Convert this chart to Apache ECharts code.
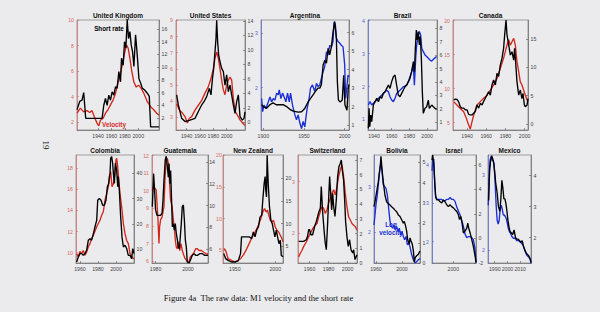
<!DOCTYPE html>
<html><head><meta charset="utf-8">
<script src="https://cdn.jsdelivr.net/npm/echarts@6/dist/echarts.min.js"></script>
<style>html,body{margin:0;padding:0;background:#ebebed;}#c{width:600px;height:312px;}</style>
</head><body><div id="c"></div>
<script>
// ---------------- DATA ----------------
const ukRate = [[1908.5,3.3],[1912.5,4.6],[1916,4.8],[1918.5,6.0],[1920,4.0],[1921.5,1.95],[1946,1.95],[1948.5,4.0],[1951,5.1],[1953.5,4.0],[1956,5.6],[1958.5,4.8],[1961,6.1],[1963.5,5.6],[1966,6.9],[1968.5,6.7],[1971,9.3],[1973.5,7.7],[1975,11.4],[1977.5,10.3],[1979.5,14.0],[1981.5,13.0],[1983.5,17.4],[1985.5,14.5],[1987.5,15.6],[1989.5,13.5],[1991.5,12.4],[1993.5,10.1],[1996,15.1],[1998.5,11.9],[2001,8.2],[2003.5,7.5],[2006,6.7],[2009.5,6.4],[2013.5,5.9],[2016.5,5.4],[2018.5,0.6],[2031,0.6]];
const ukVel = [[1908.5,2.7],[1913.5,3.1],[1918.5,2.8],[1923.5,2.9],[1927.5,2.75],[1931,2.9],[1934.5,2.4],[1938.5,1.9],[1941,1.7],[1943.5,2.15],[1947.5,2.3],[1951,2.7],[1954.5,2.95],[1958.5,3.35],[1962.5,3.75],[1966,4.25],[1969.5,5.05],[1973.5,5.8],[1976.5,6.6],[1979.5,7.4],[1982.5,8.05],[1985,7.8],[1987.5,7.0],[1990.5,5.95],[1993.5,5.15],[1997,4.75],[2000.5,4.9],[2004.5,4.65],[2008.5,4.25],[2013.5,3.6],[2018.5,3.2],[2023.5,2.95],[2027.5,2.7],[2031,2.55]];
const usRate = [[1925,3.8],[1927.5,2.4],[1932.5,0.55],[1937.5,0.1],[1945,0.3],[1952.5,0.55],[1957.5,1.5],[1962.5,2.4],[1966,2.85],[1970,3.55],[1974,4.7],[1976.5,3.8],[1978.5,5.85],[1980.5,7.45],[1982.5,9.75],[1984,11.6],[1985,14.1],[1986.5,11.1],[1988,9.3],[1990,8.4],[1992.5,7.45],[1995,7.0],[1997.5,5.15],[2000,6.55],[2002.5,4.25],[2005,5.15],[2007.5,3.8],[2010,2.4],[2012.5,1.25],[2015,2.85],[2017.5,3.8],[2020,0.8],[2023.5,0.3],[2026,0.55],[2027.5,1.45]];
const usVel = [[1925,3.85],[1929,3.45],[1934,3.25],[1937.5,3.05],[1941,2.65],[1944,2.95],[1947.5,3.05],[1952.5,3.45],[1957.5,3.75],[1962.5,4.05],[1967.5,4.5],[1972.5,4.9],[1976.5,5.4],[1980,6.0],[1982.5,6.65],[1985,7.05],[1987.5,6.65],[1990,6.0],[1992.5,5.3],[1995,4.7],[1997.5,4.4],[2000,5.0],[2002.5,5.3],[2005,5.5],[2007.5,5.3],[2010,4.15],[2013,3.35],[2016,3.15],[2020,2.85],[2024,2.65],[2027.5,2.5]];
const arRate = [[1898,2.1],[1900,2.0],[1904,1.9],[1908,2.1],[1912,2.2],[1916,2.1],[1920.4,2.1],[1924.5,2.1],[1928.6,2.0],[1932.7,1.85],[1936.8,1.75],[1942.9,1.7],[1947,1.72],[1951,1.9],[1955,2.25],[1959,2.5],[1963,2.75],[1967,3.0],[1969.4,3.0],[1971.4,3.2],[1973.5,4.25],[1975.5,4.5],[1977.6,4.35],[1979.6,5.15],[1981.6,4.8],[1983.7,5.25],[1985.7,6.05],[1987.8,6.6],[1989.8,5.7],[1991,3.35],[1992.3,2.35],[1994.5,2.25],[1997,2.35],[1998.8,3.7],[2000.3,2.1],[2002.8,1.8],[2004.4,3.0],[2005.3,3.2]];
const arVel = [[1898,1.8],[1899.2,1.56],[1900.9,1.68],[1903.3,1.62],[1906.2,1.74],[1908.2,1.83],[1910.2,1.74],[1912.3,1.8],[1914.3,1.77],[1916.4,1.9],[1918.4,1.87],[1919.6,1.96],[1921.7,1.8],[1923.7,1.9],[1925.7,1.83],[1927.8,1.74],[1929.8,1.9],[1931.9,1.74],[1933.5,1.9],[1935.9,1.68],[1938.8,1.5],[1940.8,1.41],[1942.9,1.5],[1944.9,1.35],[1947,1.25],[1949,1.38],[1951,1.28],[1952.3,1.44],[1953.9,1.62],[1956.3,1.8],[1958,1.99],[1960.4,2.05],[1963.3,1.93],[1965.3,2.08],[1967.4,2.02],[1969.4,2.05],[1971.4,2.17],[1973.5,2.29],[1975.5,2.39],[1977.6,2.66],[1979.6,2.6],[1981.6,2.78],[1983.7,2.75],[1985.7,2.85],[1986.9,3.21],[1988.6,3.15],[1989.8,2.91],[1991.8,2.85],[1993.9,2.82],[1995.9,2.78],[1998,2.75],[2000,2.42],[2001.2,1.8],[2002.9,2.05],[2004.1,2.23],[2005.3,2.2]];
const brRate = [[1933.6,0.55],[1934.4,2.04],[1935.2,0.68],[1936.3,1.54],[1937.4,1.05],[1939.3,2.29],[1941.2,2.54],[1943.1,2.79],[1945,2.54],[1946.9,2.91],[1948.7,2.79],[1950.6,3.16],[1952.5,3.28],[1954.4,3.53],[1956.3,3.78],[1958.1,3.53],[1960,4.03],[1961.9,4.4],[1963.8,4.52],[1965.6,3.78],[1967.5,3.03],[1969.4,2.91],[1971.3,3.16],[1973.2,3.41],[1975.1,3.65],[1977,3.78],[1978.9,4.03],[1980.7,4.27],[1982.6,4.77],[1984.5,5.52],[1985.7,4.77],[1986.8,6.51],[1987.9,7.87],[1989,7.13],[1990.2,7.75],[1991.3,6.76],[1992.4,7.38],[1993.6,5.76],[1994.7,3.28],[1995.8,1.67],[1997.7,2.04],[1999.6,2.16],[2001.5,2.66],[2002.6,2.04],[2005.3,2.29],[2007.2,2.16],[2009,2.04],[2010.9,1.99]];
const brVel = [[1933.6,1.44],[1935.5,1.54],[1937.4,1.44],[1939.3,1.49],[1943.1,1.59],[1946.9,1.69],[1950.6,1.79],[1954.4,1.89],[1956.3,1.84],[1958.1,1.69],[1960,1.59],[1961.9,1.54],[1963.8,1.64],[1965.6,1.79],[1969.4,1.89],[1973.2,1.99],[1977,2.04],[1978.9,2.15],[1980.7,2.3],[1982.6,2.45],[1984.5,2.65],[1985.7,2.04],[1987.2,2.86],[1988.3,3.26],[1990.2,3.57],[1991.3,3.67],[1992.8,3.57],[1994,3.16],[1995.8,3.06],[1997.7,2.96],[1999.6,2.91],[2001.5,2.86],[2003.4,2.8],[2005.3,2.77],[2007.2,2.83],[2009,2.87],[2010.9,2.91]];
const caRate = [[1926.1,4.25],[1927.8,4.4],[1929.5,4.35],[1931.2,3.95],[1933,3.05],[1934.7,2.8],[1936.5,2.8],[1938.2,2.5],[1940,2.5],[1941.7,1.7],[1943.4,1.6],[1945.2,1.6],[1946.9,1.9],[1948.6,2.2],[1950.4,3.35],[1952.1,2.8],[1953.8,3.65],[1955.6,3.35],[1957.3,4.0],[1959,4.55],[1960.8,5.1],[1962.5,5.7],[1964.3,5.1],[1966,6.9],[1967.7,7.8],[1969.5,6.9],[1971.2,8.95],[1972.9,8.4],[1974.7,10.45],[1976.4,11.6],[1978.1,13.4],[1979.2,15.8],[1980.6,18.4],[1981.6,15.8],[1983.4,14.0],[1985.1,12.2],[1986.8,12.8],[1988.6,11.3],[1989.6,13.4],[1990.6,11.0],[1992,7.5],[1993.8,5.1],[1995.5,6.0],[1997.2,4.5],[1998.3,5.4],[1999.7,3.35],[2000.7,3.05],[2002.5,3.35],[2003.5,4.5]];
const caVel = [[1926.1,8.1],[1929.5,7.6],[1933,7.1],[1936.5,6.6],[1939.3,5.65],[1941.7,4.65],[1943.4,4.05],[1945.2,5.15],[1946.9,6.1],[1948.6,6.85],[1950.4,7.6],[1953.8,8.1],[1957.3,8.6],[1960.8,9.05],[1964.3,9.8],[1967.7,10.55],[1971.2,11.5],[1974.7,13.0],[1978.1,14.5],[1981.6,16.4],[1983.4,17.2],[1985.1,16.4],[1986.8,16.9],[1988.6,17.4],[1990.3,16.4],[1992,14.0],[1993.8,12.5],[1995.5,11.0],[1997.2,10.55],[1998.9,9.8],[2000.7,9.05],[2002.5,8.35],[2003.5,8.1]];
const coRate = [[1956.3,5.0],[1958.2,7.0],[1960,8.3],[1961.9,8.3],[1963.7,7.6],[1965.6,8.3],[1967.4,9.6],[1969.3,13.6],[1971.1,14.2],[1973,13.6],[1974.9,16.2],[1976.7,18.9],[1978.6,21.5],[1979.7,29.4],[1981.5,30.1],[1983.4,29.4],[1985.2,27.4],[1987.1,27.4],[1988.9,29.4],[1990.4,34.7],[1991.9,36.0],[1992.6,38.7],[1993.4,40.0],[1994.1,45.9],[1995.2,46.6],[1996.3,44.0],[1997.1,40.0],[1998.2,36.0],[1999.3,44.0],[2000.8,41.3],[2001.9,34.7],[2002.6,38.7],[2003.7,33.4],[2005.2,22.8],[2006.7,14.9],[2008.2,10.9],[2010,11.6],[2011.9,10.3],[2013.7,7.6],[2015.6,7.6],[2017.4,6.3],[2018.6,10.3],[2020,8.3]];
const coVel = [[1956.3,9.9],[1958.2,9.6],[1960,10.1],[1961.9,9.9],[1963.7,10.2],[1965.6,9.75],[1967.4,10.05],[1969.3,10.55],[1971.1,10.85],[1973,11.35],[1974.9,11.65],[1978.6,12.45],[1982.3,13.1],[1984.1,13.55],[1986,13.9],[1987.8,15.0],[1989.7,15.6],[1991.5,16.25],[1992.6,16.9],[1994.1,17.7],[1995.6,16.25],[1997.1,16.55],[1998.9,17.5],[2000,18.8],[2000.8,18.95],[2001.9,18.15],[2003.4,16.55],[2004.5,15.6],[2006.3,14.35],[2008.2,12.75],[2010,11.8],[2011.9,11.15],[2013.7,10.85],[2015.6,9.9],[2017.4,9.6],[2019.3,9.4],[2020,9.5]];
const guRate = [[1978,9.9],[1978.8,12.9],[1979.4,11.4],[1980,9.6],[1980.9,9.1],[1982.1,9.1],[1983.1,9.1],[1984,9.3],[1984.6,10.5],[1985.2,12.3],[1986,14.2],[1986.6,14.5],[1987.3,13.55],[1987.9,12.6],[1988.3,13.85],[1988.9,12.0],[1989.3,13.2],[1989.9,10.5],[1990.4,8.05],[1991,8.35],[1991.6,7.75],[1992.2,8.35],[1992.8,7.45],[1993.5,6.85],[1994.1,6.2],[1994.7,6.05],[1995.3,7.15],[1995.9,8.35],[1996.5,9.9],[1997.2,10.05],[1997.8,8.65],[1998.4,6.85],[1999,6.2],[1999.6,4.85],[2000.7,4.75],[2001.5,5.0],[2002.7,5.45],[2003.8,5.6],[2004.8,5.45],[2005.8,5.45],[2007.3,5.6],[2008.9,5.6],[2010.4,5.45],[2011.8,5.45],[2012.4,5.45]];
const guVel = [[1978,10.05],[1978.8,10.25],[1979.6,10.15],[1980.4,10.05],[1981.5,8.35],[1982.1,7.0],[1982.5,7.95],[1983.1,8.35],[1984,8.5],[1984.6,8.8],[1985.2,9.1],[1985.8,10.6],[1986.6,11.75],[1987.3,11.85],[1987.9,11.55],[1988.7,10.4],[1989.3,9.45],[1990.2,9.1],[1991,8.35],[1991.6,7.95],[1992.2,7.2],[1992.8,6.8],[1993.5,6.7],[1994.1,7.1],[1994.9,6.6],[1995.7,7.0],[1996.5,6.6],[1997.4,6.35],[1998.2,6.15],[1999,6.05],[1999.9,5.95],[2000.7,5.95],[2001.5,6.25],[2002.7,6.35],[2003.8,6.5],[2004.8,6.7],[2005.8,6.7],[2006.9,6.6],[2008.3,6.6],[2009.8,6.5],[2011.4,6.4],[2012.4,6.4]];
const nzRate = [[1936.3,3.4],[1938.7,2.3],[1941.7,1.9],[1945.8,1.55],[1950,1.55],[1954.2,1.8],[1957.1,3.4],[1958.3,7.1],[1961.3,7.1],[1964.6,7.1],[1967.9,7.1],[1970.8,6.7],[1972.9,8.2],[1975,7.1],[1977.1,8.6],[1979.2,9.3],[1981.3,11.5],[1983.3,11.9],[1984.6,15.2],[1986.3,18.9],[1987.5,20.4],[1988.3,17.4],[1989.2,15.9],[1990,25.1],[1991.3,18.9],[1992.9,13.7],[1994.6,10.8],[1996.3,10.0],[1997.9,8.6],[1999.6,7.1],[2001.3,8.6],[2002.9,7.1],[2004.6,5.6],[2006.3,6.35],[2007.5,3.0],[2009.6,2.7]];
const nzVel = [[1936.3,5.3],[1938.7,5.0],[1941.7,3.7],[1945.8,3.45],[1950,3.2],[1954.2,3.45],[1957.1,3.7],[1960.4,4.25],[1963.8,5.0],[1966.7,5.8],[1969.6,6.6],[1972.9,7.4],[1976.3,8.2],[1979.2,8.95],[1982.1,10.0],[1984.6,11.05],[1986.7,11.6],[1988.8,11.05],[1990.4,11.35],[1992.1,10.55],[1993.8,9.75],[1995.8,9.5],[1997.9,9.75],[2000,8.7],[2002.1,8.2],[2004.2,7.9],[2006.3,7.4],[2008.3,6.85],[2009.6,6.35]];
const chRate = [[1948.5,1.47],[1953.7,1.47],[1956.5,1.58],[1957.9,1.81],[1959,2.26],[1960,2.26],[1961.4,1.92],[1963.2,1.92],[1965.3,2.48],[1967.1,2.82],[1968.5,3.16],[1969.9,3.5],[1971.3,3.72],[1972.3,5.2],[1973.4,3.84],[1974.1,3.16],[1975.5,2.03],[1976.5,1.35],[1977.6,0.9],[1979,2.71],[1980,4.29],[1981.1,5.87],[1982.1,4.85],[1983.2,3.61],[1984.3,4.74],[1985.3,3.84],[1986.7,3.16],[1988.1,4.29],[1989.5,5.87],[1990.9,6.55],[1992.3,6.77],[1993.4,7.0],[1994.4,6.32],[1995.8,5.64],[1996.9,4.29],[1997.9,2.82],[1999.3,1.81],[2000.7,1.13],[2002.1,1.58],[2003.6,0.9],[2005.3,0.68],[2006.4,0.9],[2007.8,0.23],[2009.2,0.45],[2009.9,0.56]];
const chVel = [[1948.5,1.53],[1950.2,1.6],[1952,1.66],[1953.7,1.73],[1956.5,1.82],[1959,1.92],[1960.7,1.99],[1963.6,2.09],[1966,2.15],[1967.8,2.18],[1969.5,2.31],[1971.3,2.41],[1973,2.51],[1974.8,2.48],[1976.5,2.38],[1978.3,2.45],[1980,2.58],[1981.8,2.67],[1983.6,2.77],[1985.3,2.84],[1987.1,2.74],[1988.8,2.9],[1990.6,3.1],[1992.3,3.23],[1994.1,3.33],[1995.8,3.1],[1997.6,2.77],[1999.3,2.51],[2001.1,2.31],[2002.9,2.25],[2004.6,2.18],[2006.4,2.15],[2008.1,2.12],[2009.9,2.05]];
const boRate = [[1957,2.8],[1958.5,3.04],[1961,3.53],[1963.6,4.02],[1965.2,4.5],[1966.7,4.83],[1967.7,5.3],[1969.3,4.67],[1971.3,4.02],[1973.9,3.37],[1976.4,3.04],[1979,2.96],[1981.6,2.88],[1984.1,2.8],[1986.7,2.72],[1989.3,2.63],[1991.8,2.55],[1994.4,2.39],[1997,2.31],[1999.5,2.15],[2002.1,1.98],[2003.6,2.07],[2005.7,1.82],[2007.2,1.58],[2008.7,1.17],[2011.3,0.93],[2012.3,1.25],[2013.9,1.09],[2015.9,0.93],[2017.5,0.6],[2019,0.05],[2020.5,0.28],[2022.6,0.36],[2025.2,0.44],[2027.7,0.6]];
const boVel = [[1957,2.16],[1958.5,2.38],[1960,2.6],[1962.1,2.82],[1964.1,3.11],[1966.2,3.4],[1967.7,3.55],[1969.3,3.33],[1971.3,3.04],[1973.4,3.0],[1975.4,2.96],[1977.5,2.82],[1979.5,2.53],[1981.6,2.24],[1983.6,2.13],[1985.7,2.09],[1987.7,2.16],[1989.8,2.05],[1991.8,2.13],[1993.9,2.02],[1995.9,2.09],[1998,1.94],[2000,2.02],[2002.1,1.91],[2004.1,1.84],[2006.2,1.91],[2008.2,1.73],[2010.3,1.76],[2012.3,1.69],[2014.9,1.51],[2017.5,1.4],[2020,1.33],[2022.6,1.36],[2025.2,1.4],[2027.7,1.43]];
const ilRate = [[1985.5,6.4],[1986,6.8],[1986.7,6.1],[1987.4,4.5],[1988,3.45],[1988.7,3.15],[1989.9,3.15],[1991,3.0],[1992.1,2.9],[1993.3,3.15],[1994.4,3.0],[1995.5,2.75],[1996.7,2.6],[1997.8,2.75],[1998.9,2.6],[2000.1,2.5],[2001.2,2.35],[2002.4,2.2],[2003.5,1.95],[2004.2,1.55],[2005.1,1.8],[2006,1.25],[2006.9,0.45],[2008,0.6],[2009.2,0.85],[2009.9,1.25],[2010.5,0.85],[2011.5,0.45],[2012.6,-0.1],[2013.7,-0.65],[2014.9,-1.45],[2015.5,-1.95]];
const ilVel = [[1985.5,3.85],[1986,4.15],[1986.7,4.15],[1987.4,3.5],[1988,3.15],[1989.2,3.1],[1990.5,3.1],[1992.1,3.1],[1993.7,3.05],[1995.5,3.1],[1996.7,3.1],[1997.8,3.15],[1998.9,3.1],[2000.1,3.1],[2001.2,3.05],[2002.4,2.9],[2003.5,2.8],[2004.6,2.7],[2005.8,2.55],[2006.9,2.4],[2008,2.2],[2009.2,2.1],[2010.3,2.13],[2011.5,2.13],[2012.6,2.1],[2013.7,2.05],[2014.9,1.8],[2015.5,1.45]];
const mxRate = [[1985.2,3.2],[1986,4.2],[1986.8,4.5],[1987.6,4.65],[1988.4,4.55],[1989.2,4.4],[1990,4.1],[1990.8,3.75],[1991.9,3.45],[1992.9,3.0],[1994,2.85],[1994.8,3.25],[1995.6,3.85],[1996.4,3.6],[1997.2,3.25],[1998,3.25],[1998.8,3.1],[1999.6,2.85],[2000.4,2.55],[2001.2,2.35],[2002,2.2],[2003.1,2.15],[2004.1,2.1],[2005.2,2.25],[2006.3,2.0],[2007.3,1.95],[2008.4,1.95],[2009.5,1.9],[2010.5,1.85],[2011.6,1.9],[2012.7,1.7],[2013.7,1.6],[2014.8,1.5],[2015.9,1.45],[2016.9,1.4],[2018,1.3],[2018.5,1.2]];
const mxVel = [[1984.9,2.6],[1985.5,2.95],[1986.3,3.2],[1987.1,3.25],[1987.9,3.2],[1988.7,3.2],[1989.5,3.15],[1990.3,2.9],[1991.1,2.6],[1991.9,2.4],[1992.7,2.35],[1993.5,2.4],[1994.3,2.55],[1995.1,2.6],[1995.9,2.55],[1996.7,2.47],[1997.5,2.47],[1998.3,2.45],[1999.1,2.42],[1999.9,2.36],[2000.7,2.29],[2001.5,2.25],[2002.5,2.22],[2003.6,2.18],[2004.7,2.16],[2006,2.16],[2007.3,2.13],[2008.7,2.13],[2010,2.11],[2011.3,2.09],[2012.7,2.05],[2014,1.98],[2015.3,1.93],[2016.7,1.91],[2018,1.87],[2018.5,1.82]];

// tick labels
const ticks1940 = [1940,1960,1980,2000];
const ticksAr = [1900,1950,2000];
const ticks1960 = [1960,1980,2000];
const ticksGu = [1980,2000];
const ticksNz = [1950,2000];
const ticksBo = [1960,2000];
const ticksIl = [2000];
const ticksMx = [1990,2000,2010];

const titles = ['United Kingdom','United States','Argentina','Brazil','Canada','Colombia','Guatemala','New Zealand','Switzerland','Bolivia','Israel','Mexico'];

// ---------------- LAYOUT ----------------
const RED='#d2281c', REDL='#d66a60', BLUE='#1a2ed6', BLUEL='#5562d0';
const FF='Liberation Sans, Arial, sans-serif';
// lm / rm: label margins for left / right y axes
const panels = [
 {g:[77,20,82,110], x:[1908.5,2031,ticks1940], l:[1.38,10.02,[2,4,6,8,10]], r:[0.11,17.42,[2,4,6,8,10,12,14,16]], c:'r', v:ukVel, k:ukRate},
 {g:[176,20,69,110], x:[1924,2027.5,ticks1940], l:[2.22,9.02,[3,4,5,6,7,8,9]], r:[-1.06,14.14,[0,2,4,6,8,10,12,14]], c:'r', v:usVel, k:usRate},
 {g:[261,20,88,110], x:[1897.2,2005.3,ticksAr], l:[1.222,3.244,[2,3]], r:[0.73,6.69,[1,2,3,4,5,6]], c:'b', v:arVel, k:arRate},
 {g:[368,20,69,110], x:[1933.2,2011.3,ticks1940], l:[0.68,4.02,[1,2,3,4]], r:[0.43,8.62,[1,2,3,4,5,6,7,8]], c:'b', v:brVel, k:brRate},
 {g:[453,20,75,110], x:[1925.4,2003.5,ticks1940], l:[3.93,20.1,[5,10,15,20]], r:[-1.07,18.41,[0,5,10,15]], c:'r', v:caVel, k:caRate},
 {g:[76,155,58,108], x:[1955.6,2020,ticks1960], l:[9.01,19.27,[10,12,14,16,18]], r:[4.59,47.26,[10,20,30,40]], c:'r', v:coVel, k:coRate},
 {g:[152,155,56,108], x:[1977.8,2012.4,ticksGu], l:[5.89,12.04,[6,7,8,9,10,11,12]], r:[4.75,14.62,[6,8,10,12,14]], c:'r', v:guVel, k:guRate, rm:1.2},
 {g:[223,155,60,108], x:[1935.4,2009.6,ticksNz], l:[3.02,20.05,[5,10,15,20]], r:[1.33,25.15,[5,10,15,20]], c:'r', v:nzVel, k:nzRate, lm:1.2},
 {g:[298,155,59,108], x:[1947.8,2009.9,ticks1960], l:[1.41,3.52,[2,3]], r:[0,7.34,[0,1,2,3,4,5,6,7]], c:'r', v:chVel, k:chRate},
 {g:[374,155,46,108], x:[1957,2027.7,ticksBo], l:[1.33,3.69,[2,3]], r:[0,5.37,[0,1,2,3,4,5]], c:'b', v:boVel, k:boRate},
 {g:[432,155,44,108], x:[1985.5,2015.5,ticksIl], l:[1.44,4.26,[2,3,4]], r:[-2,6.81,[-2,0,2,4,6]], c:'b', v:ilVel, k:ilRate},
 {g:[488,155,43,108], x:[1984.7,2018.5,ticksMx], l:[1.83,3.27,[2,3]], r:[1.18,4.67,[2,3,4]], c:'b', v:mxVel, k:mxRate}
];

const fmt = v => String(Math.round(v));
const grid=[], xAxis=[], yAxis=[], series=[], graphic=[];
panels.forEach((p,i)=>{
  const col = p.c==='r'?RED:BLUE, lab = p.c==='r'?REDL:BLUEL;
  grid.push({left:p.g[0], top:p.g[1], width:p.g[2], height:p.g[3], show:true, borderColor:'#6a6a6a', borderWidth:0.6, backgroundColor:'transparent'});
  xAxis.push({type:'value', gridIndex:i, min:p.x[0], max:p.x[1],
    axisLine:{show:true,onZero:false,lineStyle:{color:'#555',width:0.6}},
    axisTick:{show:true,inside:true,length:2,customValues:p.x[2],lineStyle:{color:'#555',width:0.6}},
    axisLabel:{customValues:p.x[2],formatter:fmt,hideOverlap:false,fontSize:5.2,color:'#444',margin:3.5,fontFamily:FF},
    splitLine:{show:false}});
  yAxis.push({type:'value', gridIndex:i, position:'left', min:p.l[0], max:p.l[1],
    axisLine:{show:true,onZero:false,lineStyle:{color:lab,width:0.7}},
    axisTick:{show:true,inside:true,length:2,customValues:p.l[2],lineStyle:{color:lab,width:0.6}},
    axisLabel:{customValues:p.l[2],formatter:fmt,hideOverlap:false,fontSize:5.2,color:lab,margin:(p.lm!=null?p.lm:3),fontFamily:FF},
    splitLine:{show:false}});
  yAxis.push({type:'value', gridIndex:i, position:'right', min:p.r[0], max:p.r[1],
    axisLine:{show:true,onZero:false,lineStyle:{color:'#555',width:0.6}},
    axisTick:{show:true,inside:true,length:2,customValues:p.r[2],lineStyle:{color:'#555',width:0.6}},
    axisLabel:{customValues:p.r[2],formatter:fmt,hideOverlap:false,fontSize:5.2,color:'#444',margin:(p.rm!=null?p.rm:2.5),fontFamily:FF},
    splitLine:{show:false}});
  series.push({type:'line', xAxisIndex:i, yAxisIndex:2*i, data:p.v, symbol:'none', silent:true, z:2,
    lineStyle:{color:col,width:1.35}});
  series.push({type:'line', xAxisIndex:i, yAxisIndex:2*i+1, data:p.k, symbol:'none', silent:true, z:3,
    lineStyle:{color:'#000',width:1.35}});
  graphic.push({type:'text', x:p.g[0]+p.g[2]/2, y:p.g[1]-4.5, style:{text:titles[i], font:'bold 6.5px '+FF, fill:'#111', textAlign:'center', textVerticalAlign:'middle', align:'center', verticalAlign:'middle'}});
});
const ctr = {textAlign:'center', textVerticalAlign:'middle', align:'center', verticalAlign:'middle'};
graphic.push({type:'text', x:109, y:28, style:Object.assign({text:'Short rate', font:'bold 6.3px '+FF, fill:'#000'}, ctr)});
graphic.push({type:'text', x:114, y:124, style:Object.assign({text:'Velocity', font:'bold 6.3px '+FF, fill:RED}, ctr)});
graphic.push({type:'text', x:391, y:224, style:Object.assign({text:'Log', font:'bold 6.3px '+FF, fill:BLUE}, ctr)});
graphic.push({type:'text', x:391, y:232, style:Object.assign({text:'velocity', font:'bold 6.3px '+FF, fill:BLUE}, ctr)});
graphic.push({type:'text', x:258.5, y:298, style:Object.assign({text:'Figure 4a  The raw data: M1 velocity and the short rate', font:'8.6px "Liberation Serif", "DejaVu Serif", serif', fill:'#111'}, ctr)});
graphic.push({type:'text', x:46, y:145, rotation:-Math.PI/2, style:Object.assign({text:'19', font:'9px "Liberation Serif", serif', fill:'#111'}, ctr)});

const chart = echarts.init(document.getElementById('c'), null, {renderer:'svg'});
chart.setOption({backgroundColor:'#ebebed', animation:false, grid, xAxis, yAxis, series, graphic});
</script></body></html>
